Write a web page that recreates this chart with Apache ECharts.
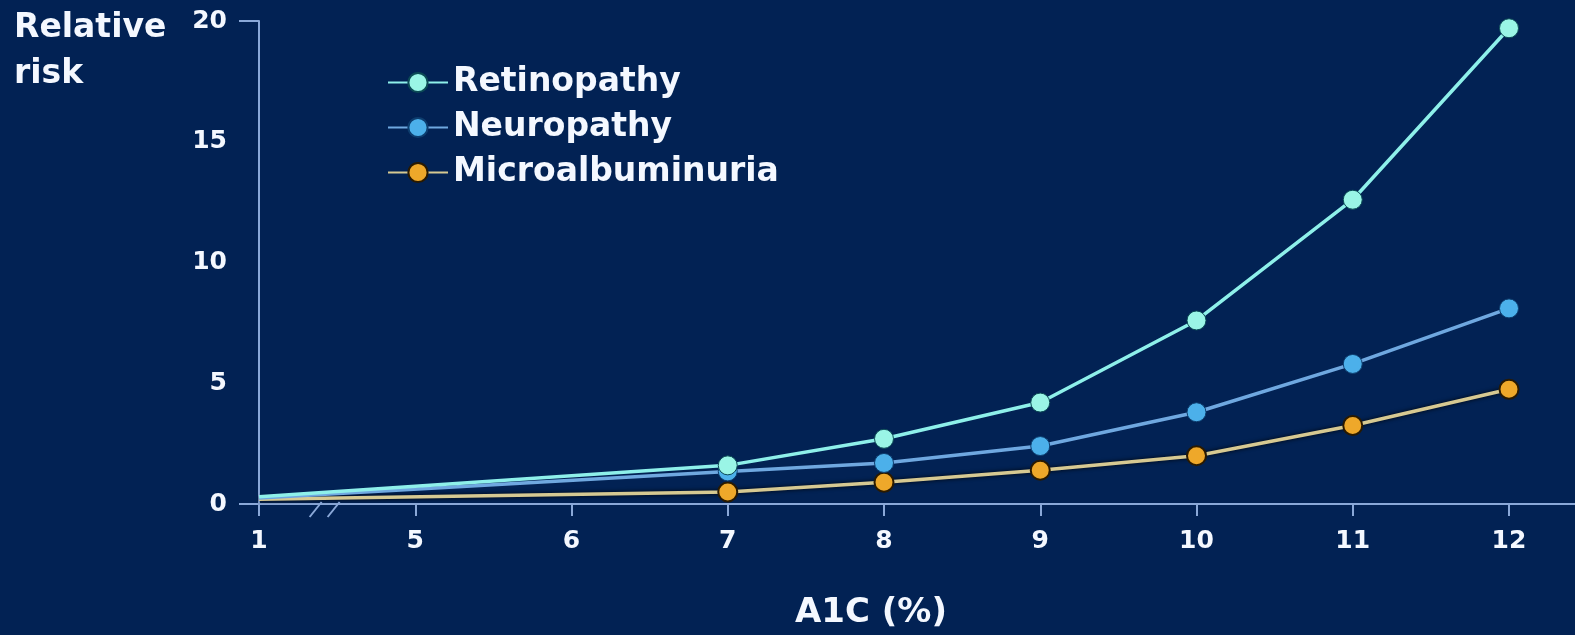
<!DOCTYPE html>
<html>
<head>
<meta charset="utf-8">
<script src="https://cdn.jsdelivr.net/npm/echarts@6/dist/echarts.min.js"></script>
<style>
  html, body { margin: 0; padding: 0; background: #022254; }
  #chart { width: 1575px; height: 635px; }
</style>
</head>
<body>
<div id="chart"></div>
<script>
// A1C (%) categories; the axis is broken between 1 and 5
const categories = ['1', '5', '6', '7', '8', '9', '10', '11', '12'];

// Relative risk by A1C; no readings at 5 and 6, lines run straight through
const retinopathy      = [0.3,  null, null, 1.6,  2.7, 4.2, 7.6, 12.6, 19.7];
const neuropathy       = [0.25, null, null, 1.35, 1.7, 2.4, 3.8, 5.8,  8.1];
const microalbuminuria = [0.2,  null, null, 0.5,  0.9, 1.4, 2.0, 3.25, 4.75];

const yTickValues = [0, 5, 10, 15, 20];
const yTickMarks = [0, 20];

const FONT = 'DejaVu Sans';
const TEXT = '#f4f8ff';
const AXIS = '#8aa8d8';

// first point sits on the axis origin without a marker
function pointsOf(values) {
  return values.map((v, i) => (i === 0 ? { value: v, symbol: 'none' } : v));
}

const chart = echarts.init(document.getElementById('chart'), null, { renderer: 'canvas' });

const option = {
  backgroundColor: '#022254',
  animation: false,
  title: {
    text: 'Relative\nrisk',
    left: 14,
    top: 5,
    padding: 0,
    textStyle: {
      fontFamily: FONT,
      fontWeight: 'bold',
      fontSize: 33,
      lineHeight: 46,
      color: TEXT
    }
  },
  legend: {
    orient: 'vertical',
    left: 382,
    top: 61,
    itemWidth: 60,
    itemHeight: 24,
    itemGap: 12,
    data: ['Retinopathy', 'Neuropathy', 'Microalbuminuria'],
    textStyle: {
      fontFamily: FONT,
      fontWeight: 'bold',
      fontSize: 33,
      color: TEXT
    }
  },
  grid: {
    left: 259,
    right: 66,
    top: 21,
    bottom: 129,
    containLabel: false
  },
  xAxis: {
    type: 'category',
    data: categories,
    boundaryGap: false,
    name: 'A1C (%)',
    nameLocation: 'middle',
    nameGap: 92,
    nameTextStyle: {
      fontFamily: FONT,
      fontWeight: 'bold',
      fontSize: 34,
      color: TEXT,
      padding: [0, 26, 0, 0]
    },
    axisLine: { lineStyle: { color: AXIS, width: 2 } },
    axisTick: { show: true, length: 12, interval: 0, lineStyle: { color: AXIS, width: 2 } },
    axisLabel: {
      interval: 0,
      margin: 25,
      fontFamily: FONT,
      fontWeight: 'bold',
      fontSize: 25,
      color: TEXT
    },
    splitLine: { show: false }
  },
  yAxis: {
    type: 'value',
    min: 0,
    max: 20,
    interval: 5,
    axisLine: { show: true, lineStyle: { color: AXIS, width: 2 } },
    axisTick: {
      show: true,
      length: 20,
      customValues: yTickMarks,
      lineStyle: { color: AXIS, width: 2 }
    },
    axisLabel: {
      margin: 32,
      customValues: yTickValues,
      fontFamily: FONT,
      fontWeight: 'bold',
      fontSize: 25,
      color: TEXT
    },
    splitLine: { show: false }
  },
  series: [
    {
      name: 'Retinopathy',
      type: 'line',
      z: 4,
      data: pointsOf(retinopathy),
      connectNulls: true,
      symbol: 'circle',
      symbolSize: 19,
      lineStyle: { color: '#8ef0ea', width: 3.5 },
      itemStyle: { color: '#9af5e6', borderColor: '#0b4a55', borderWidth: 1 }
    },
    {
      name: 'Neuropathy',
      type: 'line',
      z: 3,
      data: pointsOf(neuropathy),
      connectNulls: true,
      symbol: 'circle',
      symbolSize: 19,
      lineStyle: { color: '#6fa8e0', width: 3.5 },
      itemStyle: { color: '#4cb0ea', borderColor: '#0d3d6e', borderWidth: 1 }
    },
    {
      name: 'Microalbuminuria',
      type: 'line',
      z: 2,
      data: pointsOf(microalbuminuria),
      connectNulls: true,
      symbol: 'circle',
      symbolSize: 19,
      lineStyle: {
        color: '#d6c992',
        width: 3.5,
        shadowColor: 'rgba(0,0,0,0.9)',
        shadowBlur: 4
      },
      itemStyle: { color: '#eea82a', borderColor: '#2a1a00', borderWidth: 2 }
    }
  ]
};

chart.setOption(option);

// axis break marks between the first two categories, and the x axis line
// continuing to the right edge
const origin = chart.convertToPixel({ xAxisIndex: 0, yAxisIndex: 0 }, [0, 0]);
const next = chart.convertToPixel({ xAxisIndex: 0, yAxisIndex: 0 }, [1, 0]);
const last = chart.convertToPixel({ xAxisIndex: 0, yAxisIndex: 0 }, [categories.length - 1, 0]);
const bx = origin[0] + (next[0] - origin[0]) * 0.42;
const by = origin[1];
const slash = (dx) => ({
  type: 'line',
  shape: { x1: bx + dx - 6, y1: by + 13, x2: bx + dx + 6, y2: by - 2 },
  style: { stroke: AXIS, lineWidth: 2 },
  z: 10
});
chart.setOption({
  graphic: [
    slash(-9),
    slash(9),
    {
      type: 'line',
      shape: { x1: last[0], y1: by, x2: chart.getWidth(), y2: by },
      style: { stroke: AXIS, lineWidth: 2 },
      z: 1
    }
  ]
});
</script>
</body>
</html>
